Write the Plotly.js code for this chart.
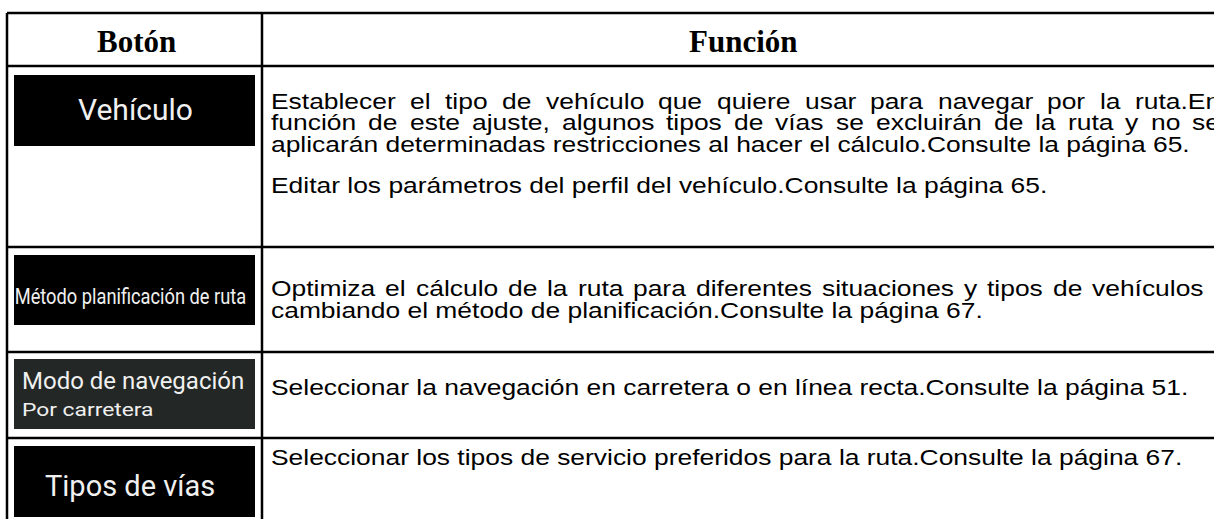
<!DOCTYPE html>
<html><head><meta charset="utf-8">
<script src="https://cdn.plot.ly/plotly-3.0.1.min.js"></script>
<style>html,body{margin:0;padding:0;background:#fff;overflow:hidden}</style>
</head><body><div id="chart" style="width:1214px;height:519px"></div>
<script>
// ---- data ----
const headerLabels = ["Botón", "Función"];
const buttonLabels = ["Vehículo", "Método planificación de ruta", "Modo de navegación", "Tipos de vías"];
const buttonSubLabels = ["", "", "Por carretera", ""];
const descriptionRow1 = [
  "Establecer el tipo de vehículo que quiere usar para navegar por la ruta.En",
  "función de este ajuste, algunos tipos de vías se excluirán de la ruta y no se",
  "aplicarán determinadas restricciones al hacer el cálculo.Consulte la página 65.",
  "Editar los parámetros del perfil del vehículo.Consulte la página 65."
];
const descriptionRow2 = [
  "Optimiza el cálculo de la ruta para diferentes situaciones y tipos de vehículos",
  "cambiando el método de planificación.Consulte la página 67."
];
const descriptionRow3 = ["Seleccionar la navegación en carretera o en línea recta.Consulte la página 51."];
const descriptionRow4 = ["Seleccionar los tipos de servicio preferidos para la ruta.Consulte la página 67."];
const descriptions = [descriptionRow1, descriptionRow2, descriptionRow3, descriptionRow4];

// ---- layout geometry / styling ----
const W = 1214, H = 519;
const tableLeft = 7, tableRight = 1224, colSplit = 262;
const rowLines = [13, 66, 247, 352, 438];
const boxX = [14, 255];
const boxY = [[75, 146], [255, 325], [359, 429], [446, 517]];
const boxColors = ["#000000", "#000000", "#232725", "#000000"];
const labelY = [109, 296, 381, 486];
const subLabelY = [null, null, 409, null];
const descX = 270;
const descLineY = [[101, 122, 144, 185], [288, 310], [387], [457]];
const justifyRight = [[1219, 1219, null, null], [1203, null], [null], [null]];
const bodyFont = 'Liberation Sans, Arial, sans-serif';
const bodySize = 22;
const bodyStretch = 1.2;

const ctx = document.createElement('canvas').getContext('2d');
ctx.font = bodySize + 'px "Liberation Sans"';

const shapes = [];
const ann = [];
const stretch = [];
function addAnn(a, s) { ann.push(a); stretch.push(s || 1); }

const lineStyle = {color: '#000', width: 2.5};
rowLines.forEach(y => shapes.push({type: 'line', xref: 'x', yref: 'y', x0: tableLeft, x1: tableRight, y0: y, y1: y, line: lineStyle}));
[tableLeft, colSplit].forEach(x => shapes.push({type: 'line', xref: 'x', yref: 'y', x0: x, x1: x, y0: rowLines[0], y1: H + 10, line: lineStyle}));
buttonLabels.forEach((b, i) => {
  shapes.push({type: 'rect', xref: 'x', yref: 'y', x0: boxX[0], x1: boxX[1], y0: boxY[i][0], y1: boxY[i][1],
    fillcolor: boxColors[i], line: {width: 0}, layer: 'below'});
});

// headers
const headerFont = {family: 'Liberation Serif, Times New Roman, serif', size: 31, color: '#000'};
addAnn({text: '<b>' + headerLabels[0] + '</b>', x: 136, y: 41, xanchor: 'center', yanchor: 'middle', font: headerFont});
addAnn({text: '<b>' + headerLabels[1] + '</b>', x: 743, y: 41, xanchor: 'center', yanchor: 'middle', font: headerFont});

// button labels
const btnColor = '#f0f0f0';
addAnn({text: buttonLabels[0], x: 135, y: labelY[0], xanchor: 'center', yanchor: 'middle',
  font: {family: 'Roboto, sans-serif', size: 30, color: btnColor}});
addAnn({text: buttonLabels[1], x: 130, y: labelY[1], xanchor: 'center', yanchor: 'middle',
  font: {family: 'Roboto, sans-serif', size: 22, color: btnColor}}, 0.83);
addAnn({text: buttonLabels[2], x: 21, y: labelY[2], xanchor: 'left', yanchor: 'middle', align: 'left',
  font: {family: 'Roboto, sans-serif', size: 24, color: btnColor}});
addAnn({text: buttonSubLabels[2], x: 21, y: subLabelY[2], xanchor: 'left', yanchor: 'middle', align: 'left',
  font: {family: 'Roboto, sans-serif', size: 19, color: btnColor}}, 1.2);
addAnn({text: buttonLabels[3], x: 130, y: labelY[3], xanchor: 'center', yanchor: 'middle',
  font: {family: 'Roboto, sans-serif', size: 29, color: btnColor}});

// descriptions
descriptions.forEach((lines, r) => {
  lines.forEach((line, k) => {
    const y = descLineY[r][k];
    const right = justifyRight[r][k];
    const font = {family: bodyFont, size: bodySize, color: '#000'};
    if (right) {
      const words = line.split(' ');
      const widths = words.map(w => ctx.measureText(w).width * bodyStretch);
      const total = widths.reduce((a, b) => a + b, 0);
      const gap = (right - descX - total) / (words.length - 1);
      let x = descX;
      words.forEach((w, j) => {
        addAnn({text: w, x: x, y: y, xanchor: 'left', yanchor: 'middle', align: 'left', font: font}, bodyStretch);
        x += widths[j] + gap;
      });
    } else {
      addAnn({text: line, x: descX, y: y, xanchor: 'left', yanchor: 'middle', align: 'left', font: font}, bodyStretch);
    }
  });
});
ann.forEach(a => { a.xref = 'x'; a.yref = 'y'; a.showarrow = false; a.borderpad = 0; });

const layout = {
  width: W, height: H,
  margin: {l: 0, r: 0, t: 0, b: 0, pad: 0},
  paper_bgcolor: '#fff', plot_bgcolor: '#fff',
  xaxis: {range: [0, W], visible: false, fixedrange: true},
  yaxis: {range: [H, 0], visible: false, fixedrange: true},
  shapes: shapes, annotations: ann, showlegend: false
};
Plotly.newPlot('chart', [{x: [], y: [], type: 'scatter'}], layout, {staticPlot: true, displayModeBar: false}).then(gd => {
  const groups = gd.querySelectorAll('g.annotation');
  groups.forEach(g => {
    const idx = +g.getAttribute('data-index');
    const s = stretch[idx];
    if (s && s !== 1) {
      const t = g.querySelector('text.annotation-text');
      if (t) {
        const len = t.getComputedTextLength();
        t.setAttribute('textLength', (len * s).toFixed(2));
        t.setAttribute('lengthAdjust', 'spacingAndGlyphs');
      }
    }
  });
});
</script>
</body></html>
